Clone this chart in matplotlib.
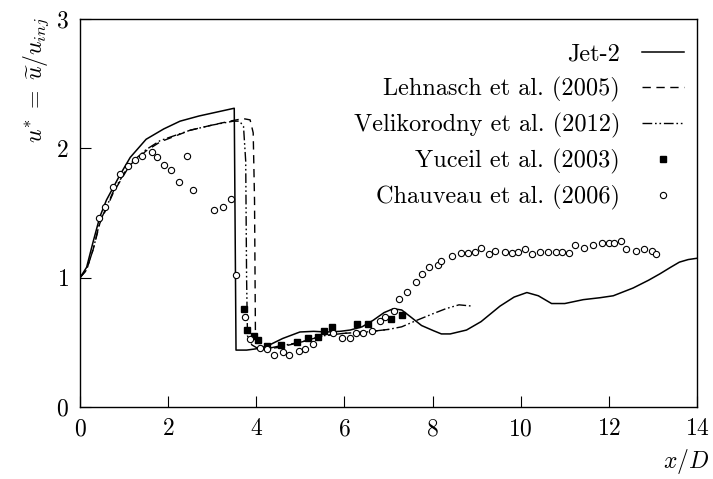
import matplotlib
matplotlib.use("Agg")
import matplotlib.pyplot as plt

plt.rcParams['font.family'] = 'serif'
plt.rcParams['font.serif'] = ['cmr10']
plt.rcParams['mathtext.fontset'] = 'cm'
plt.rcParams['axes.formatter.use_mathtext'] = True

# Jet-2 (solid)
jet_x = [0, 0.15, 0.3, 0.45, 0.6, 0.9, 1.14, 1.5, 1.9, 2.27, 2.7, 3.1, 3.5, 3.54, 3.78, 4.0,
         4.24, 4.6, 4.99, 5.3, 5.6, 5.9, 6.13, 6.4, 6.65, 6.9, 7.11, 7.3, 7.49, 7.75, 8.02,
         8.2, 8.4, 8.77, 9.1, 9.53, 9.85, 10.14, 10.4, 10.7, 11.0, 11.42, 11.8, 12.1, 12.55,
         12.9, 13.16, 13.4, 13.6, 13.8, 14.0]
jet_y = [1.0, 1.08, 1.28, 1.47, 1.60, 1.79, 1.93, 2.07, 2.15, 2.21, 2.25, 2.28, 2.31, 0.44, 0.44, 0.45,
         0.47, 0.53, 0.58, 0.585, 0.58, 0.585, 0.595, 0.62, 0.67, 0.73, 0.76, 0.75, 0.70, 0.63, 0.59,
         0.565, 0.565, 0.595, 0.66, 0.78, 0.85, 0.885, 0.86, 0.80, 0.80, 0.83, 0.845, 0.86, 0.92,
         0.98, 1.03, 1.08, 1.12, 1.14, 1.15]

# Lehnasch et al. (2005) (dashed)
leh_x = [0, 0.15, 0.3, 0.45, 0.76, 1.13, 1.5, 1.82, 2.5, 3.0, 3.4, 3.7, 3.86, 3.93, 3.96, 3.98,
         4.0, 4.2, 4.5, 5.0, 5.5, 6.0, 6.5, 7.0]
leh_y = [1.0, 1.06, 1.22, 1.42, 1.66, 1.87, 1.98, 2.05, 2.14, 2.18, 2.21, 2.23, 2.22, 2.12, 1.6, 0.6,
         0.48, 0.45, 0.46, 0.50, 0.55, 0.57, 0.58, 0.60]

# Velikorodny et al. (2012) (dash-dot-dot)
vel_x = [0, 0.15, 0.3, 0.45, 0.76, 1.13, 1.5, 1.82, 2.5, 3.0, 3.48, 3.62, 3.71, 3.76, 3.78, 3.8,
         3.9, 4.1, 4.5, 5.0, 5.5, 6.0, 6.5, 7.0, 7.3, 7.64, 8.0, 8.3, 8.6, 8.9]
vel_y = [1.0, 1.06, 1.22, 1.43, 1.67, 1.88, 1.99, 2.06, 2.14, 2.18, 2.21, 2.21, 2.17, 1.9, 1.0, 0.55,
         0.48, 0.44, 0.47, 0.50, 0.55, 0.57, 0.58, 0.60, 0.62, 0.67, 0.72, 0.76, 0.79, 0.78]

# Yuceil et al. (2003) (filled squares)
yuc_x = [3.71, 3.80, 3.95, 4.05, 4.25, 4.56, 4.92, 5.18, 5.41, 5.54, 5.72, 6.28, 6.54, 7.05, 7.31]
yuc_y = [0.758, 0.595, 0.549, 0.518, 0.472, 0.477, 0.503, 0.534, 0.544, 0.585, 0.621, 0.64, 0.644, 0.68, 0.711]

# Chauveau et al. (2006) (open circles)
cha_x = [0.42, 0.57, 0.75, 0.91, 1.10, 1.25, 1.40, 1.63, 1.74, 1.91, 2.07, 2.25, 2.42, 2.56, 3.05, 3.24,
         3.42, 3.54, 3.74, 3.86, 4.08, 4.24, 4.41, 4.60, 4.74, 4.98, 5.10, 5.28, 5.75, 5.94, 6.13,
         6.26, 6.43, 6.62, 6.81, 6.92, 7.13, 7.24, 7.41, 7.62, 7.76, 7.91, 8.13, 8.20, 8.45, 8.64,
         8.80, 8.96, 9.10, 9.28, 9.42, 9.64, 9.81, 9.93, 10.10, 10.26, 10.44, 10.63, 10.81, 10.94,
         11.09, 11.23, 11.44, 11.65, 11.85, 12.01, 12.12, 12.27, 12.40, 12.61, 12.80, 12.99, 13.08]
cha_y = [1.46, 1.55, 1.70, 1.80, 1.86, 1.91, 1.94, 1.97, 1.93, 1.87, 1.83, 1.74, 1.94, 1.68, 1.52, 1.55,
         1.61, 1.02, 0.693, 0.523, 0.459, 0.451, 0.40, 0.428, 0.40, 0.436, 0.451, 0.49, 0.57, 0.531, 0.536,
         0.575, 0.57, 0.588, 0.667, 0.698, 0.742, 0.835, 0.889, 0.964, 1.03, 1.085, 1.10, 1.127, 1.17, 1.19,
         1.19, 1.20, 1.23, 1.18, 1.21, 1.20, 1.19, 1.20, 1.22, 1.18, 1.20, 1.20, 1.20, 1.20,
         1.19, 1.25, 1.23, 1.25, 1.27, 1.27, 1.27, 1.28, 1.22, 1.21, 1.22, 1.21, 1.18]

xticks = [0, 2, 4, 6, 8, 10, 12, 14]
yticks = [0, 1, 2, 3]

FS = 17
LFS = 17.5

fig = plt.figure(figsize=(7.13, 4.79), dpi=100)
ax = fig.add_axes([80/713, 72/479, 617/713, 388/479])

ax.plot(jet_x, jet_y, color='black', lw=1.1, label='Jet-2')
ax.plot(leh_x, leh_y, color='black', lw=1.0, linestyle=(0, (6, 4)), label='Lehnasch et al. (2005)')
ax.plot(vel_x, vel_y, color='black', lw=1.0, linestyle=(0, (7, 2, 1.2, 2, 1.2, 2)),
        label='Velikorodny et al. (2012)')
ax.plot(yuc_x, yuc_y, linestyle='none', marker='s', ms=5, color='black', label='Yuceil et al. (2003)')
ax.plot(cha_x, cha_y, linestyle='none', marker='o', ms=4.5, mfc='white', mec='black', mew=0.8,
        label='Chauveau et al. (2006)')

ax.set_xlim(0, 14)
ax.set_ylim(0, 3)
ax.set_xticks(xticks)
ax.set_yticks(yticks)
ax.tick_params(direction='in', length=8, width=0.8, labelsize=FS, pad=8, top=False, right=False)
for s in ax.spines.values():
    s.set_linewidth(1.0)

fig.text(36/713, 1 - 80/479, r'$u^{*}\;=\;\widetilde{u}/u_{inj}$', fontsize=FS, rotation=90,
         ha='center', va='center')
fig.text(709/713, 1 - 462/479, r'$x/D$', fontsize=FS, ha='right', va='center')

ax.legend(loc='upper right', bbox_to_anchor=(0.979, 0.937), frameon=False, markerfirst=False,
          fontsize=LFS, handlelength=1.73, handletextpad=0.9, labelspacing=0.45, borderaxespad=0,
          borderpad=0)

fig.savefig('out.png', dpi=100)
